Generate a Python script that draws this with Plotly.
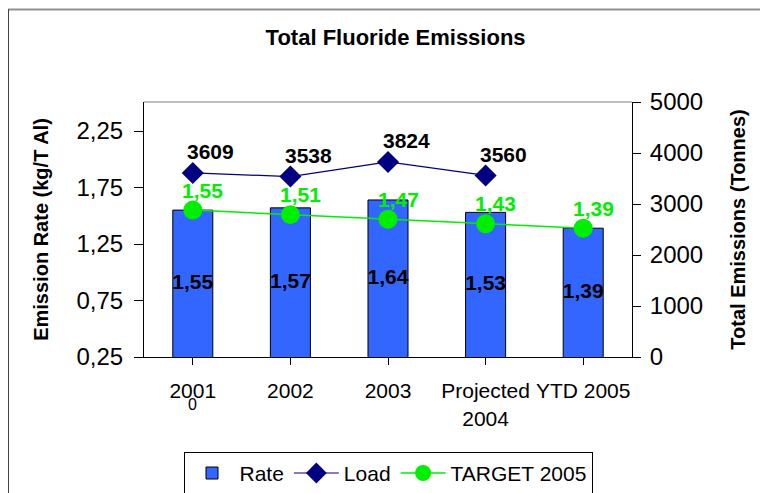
import plotly.graph_objects as go

categories = ["2001", "2002", "2003", "Projected<br>2004", "YTD 2005"]
rate = [1.55, 1.57, 1.64, 1.53, 1.39]
load = [3609, 3538, 3824, 3560, None]
target = [1.55, 1.51, 1.47, 1.43, 1.39]
left_tickvals = [0.25, 0.75, 1.25, 1.75, 2.25]
left_ticktext = ["0,25", "0,75", "1,25", "1,75", "2,25"]
right_tickvals = [0, 1000, 2000, 3000, 4000, 5000]

def fmt(v):
    return f"{v:.2f}".replace(".", ",")

FONT = "Liberation Sans, Arial, sans-serif"
xs = list(range(len(categories)))

fig = go.Figure()
fig.add_trace(go.Bar(
    x=xs, y=rate, name="Rate", width=0.41,
    marker=dict(color="#3366FF", line=dict(color="black", width=1)),
    yaxis="y",
))
fig.add_trace(go.Scatter(
    x=xs, y=[(0.25 + r) / 2 for r in rate], mode="text",
    text=[fmt(r) for r in rate], textposition="middle center",
    textfont=dict(family=FONT, size=21, color="black", weight="bold"),
    showlegend=False, hoverinfo="skip", yaxis="y",
))
fig.add_trace(go.Scatter(
    x=xs, y=load, name="Load", mode="lines+markers",
    line=dict(color="#000080", width=1.2),
    marker=dict(symbol="diamond", size=17, color="#000080"),
    yaxis="y2", cliponaxis=False,
))
fig.add_trace(go.Scatter(
    x=xs, y=target, name="TARGET 2005", mode="lines+markers",
    line=dict(color="#00EE00", width=1.5),
    marker=dict(symbol="circle", size=19, color="#00EE00"),
    yaxis="y", cliponaxis=False,
))

annotations = []
for x, v in zip(xs, load):
    if v is None:
        continue
    annotations.append(dict(
        text=f"<b>{v}</b>", x=x, y=v, xref="x", yref="y2", showarrow=False,
        xanchor="center", yanchor="middle", xshift=18, yshift=21,
        font=dict(size=21, family=FONT, color="black"),
    ))
for x, v in zip(xs, target):
    annotations.append(dict(
        text=f"<b>{fmt(v)}</b>", x=x, y=v, xref="x", yref="y", showarrow=False,
        xanchor="center", yanchor="middle", xshift=10, yshift=20,
        font=dict(size=21, family=FONT, color="#00EE00"),
    ))
annotations.append(dict(
    text="0", x=0, y=-0.188, xref="x", yref="paper", showarrow=False,
    xanchor="center", yanchor="middle",
    font=dict(size=16, family=FONT),
))

fig.update_layout(
    width=760, height=485,
    margin=dict(l=136, r=136, t=94, b=136, autoexpand=False),
    paper_bgcolor="white", plot_bgcolor="white",
    font=dict(family=FONT, color="black"),
    title=dict(text="<b>Total Fluoride Emissions</b>", x=0.51, xanchor="center",
               y=0.94, yanchor="middle", font=dict(size=22, family=FONT)),
    xaxis=dict(
        tickmode="array", tickvals=xs, ticktext=categories,
        range=[-0.5, 4.5], tickson="boundaries", ticks="outside", ticklen=7,
        tickcolor="black", showline=True, linecolor="black", linewidth=1,
        showgrid=False, zeroline=False, tickfont=dict(size=21, family=FONT),
        ticklabelstandoff=8, automargin=False,
    ),
    yaxis=dict(
        range=[0.25, 2.507], tickmode="array", tickvals=left_tickvals,
        ticktext=left_ticktext, ticks="outside", ticklen=9, tickcolor="black",
        showline=True, linecolor="black", linewidth=1, showgrid=False,
        zeroline=False, tickfont=dict(size=24, family=FONT), ticklabelstandoff=6,
        automargin=False,
        title=dict(text="<b>Emission Rate (kg/T Al)</b>", font=dict(size=20, family=FONT), standoff=22),
    ),
    yaxis2=dict(
        range=[0, 5000], overlaying="y", side="right", tickmode="array",
        tickvals=right_tickvals, ticks="outside", ticklen=8, tickcolor="black",
        showline=True, linecolor="black", linewidth=1, showgrid=False,
        zeroline=False, tickfont=dict(size=24, family=FONT), ticklabelstandoff=4,
        automargin=False,
        title=dict(text="<b>Total Emissions (Tonnes)</b>", font=dict(size=20, family=FONT), standoff=28),
    ),
    legend=dict(
        orientation="h", x=0.5, xanchor="center", y=-0.372, yanchor="top",
        bordercolor="black", borderwidth=1, font=dict(size=21, family=FONT),
        itemwidth=45, traceorder="normal",
    ),
    shapes=[
        dict(type="line", xref="paper", yref="paper", x0=0, x1=1, y0=1, y1=1,
             line=dict(color="#808080", width=1)),
        dict(type="line", xref="paper", yref="paper", x0=-0.2787, x1=1.4, y0=1.363, y1=1.363,
             line=dict(color="#909090", width=2)),
        dict(type="line", xref="paper", yref="paper", x0=-0.2787, x1=-0.2787, y0=1.363, y1=-0.6,
             line=dict(color="black", width=1.5)),
    ],
    annotations=annotations,
)

fig.write_html("out.html")
